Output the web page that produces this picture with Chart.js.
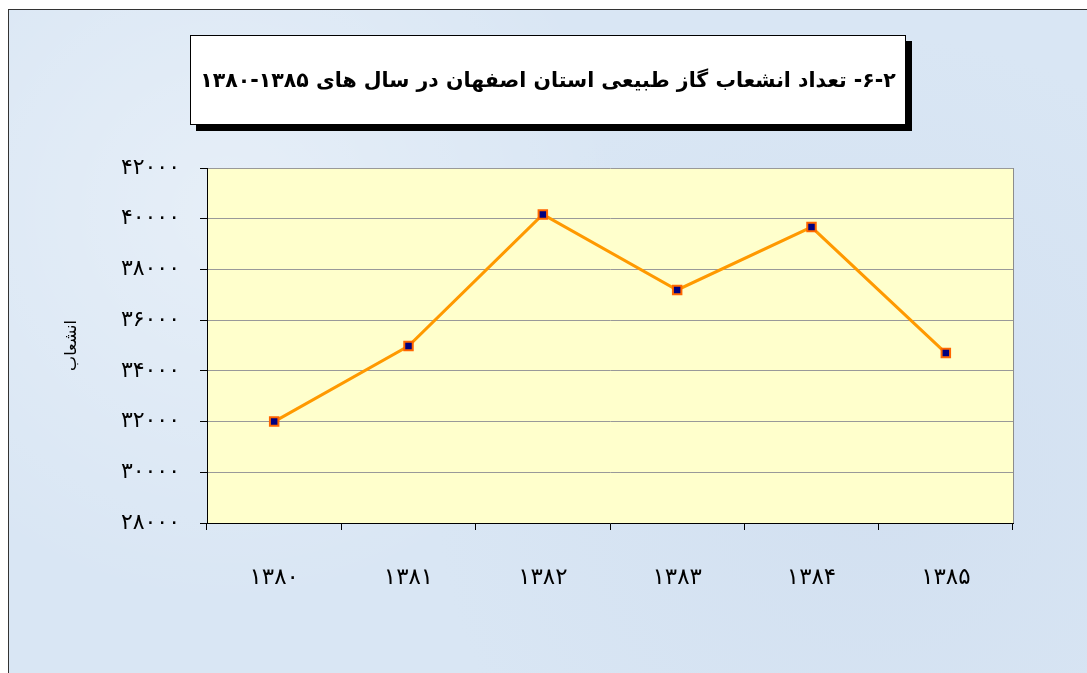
<!DOCTYPE html>
<html lang="fa">
<head>
    <meta charset="UTF-8">
    <title>انشعاب گاز طبیعی</title>
    <script src="https://cdn.jsdelivr.net/npm/chart.js"></script>
    <style>
        html, body { margin: 0; padding: 0; background: #ffffff; }
        #wrap { position: relative; width: 1087px; height: 673px; overflow: hidden; }
        #panel {
            position: absolute; left: 8px; top: 9px; right: -10px; bottom: -10px;
            border-top: 1px solid #333; border-left: 1px solid #333;
            background: #d9e6f4;
            background-image:
                radial-gradient(circle at 20% 30%, rgba(255,255,255,0.35) 0, rgba(255,255,255,0) 40%),
                radial-gradient(circle at 80% 70%, rgba(200,215,235,0.4) 0, rgba(200,215,235,0) 45%);
        }
        #chartBox { position: absolute; left: 0; top: 0; width: 1087px; height: 673px; }
        #titleBox {
            position: absolute; left: 190px; top: 35px; width: 714px; height: 88px;
            background: #ffffff; border: 1px solid #000;
            box-shadow: 6px 6px 0 #000;
            display: flex; align-items: center; justify-content: center;
            font-family: "DejaVu Sans", sans-serif; font-weight: bold; font-size: 20.5px;
            white-space: nowrap;
            direction: rtl; color: #000;
        }
    </style>
</head>
<body>
    <div id="wrap">
        <div id="panel"></div>
        <div id="chartBox"><canvas id="gasChart" width="1087" height="673"></canvas></div>
        <div id="titleBox">۶-۲- تعداد  انشعاب گاز طبیعی استان اصفهان در سال های ۱۳۸۵-۱۳۸۰</div>
    </div>

    <script>
        const years = ['۱۳۸۰', '۱۳۸۱', '۱۳۸۲', '۱۳۸۳', '۱۳۸۴', '۱۳۸۵'];
        const connections = [32000, 34980, 40170, 37190, 39670, 34700];
        const yTicks = [28000, 30000, 32000, 34000, 36000, 38000, 40000, 42000];
        const persianDigits = ['۰', '۱', '۲', '۳', '۴', '۵', '۶', '۷', '۸', '۹'];

        function toPersian(n) {
            return String(n).replace(/[0-9]/g, d => persianDigits[+d]);
        }

        const plotFill = {
            id: 'plotFill',
            beforeDraw(chart) {
                const { ctx, chartArea: a } = chart;
                ctx.save();
                ctx.fillStyle = '#ffffcc';
                ctx.fillRect(a.left, a.top, a.right - a.left, a.bottom - a.top);
                ctx.strokeStyle = '#8c8c8c';
                ctx.lineWidth = 1;
                ctx.beginPath();
                ctx.moveTo(a.right + 0.5, a.top);
                ctx.lineTo(a.right + 0.5, a.bottom);
                ctx.stroke();
                ctx.restore();
            }
        };

        const ctx = document.getElementById('gasChart').getContext('2d');
        new Chart(ctx, {
            type: 'line',
            data: {
                labels: years,
                datasets: [{
                    data: connections,
                    borderColor: '#ff9900',
                    borderWidth: 3,
                    pointStyle: 'rect',
                    pointRadius: 6,
                    pointHoverRadius: 6,
                    pointBackgroundColor: '#000080',
                    pointBorderColor: '#ff6600',
                    pointBorderWidth: 2,
                    tension: 0
                }]
            },
            options: {
                responsive: false,
                animation: false,
                layout: { padding: { top: 168, right: 74, left: 0, bottom: 0 } },
                plugins: {
                    legend: { display: false },
                    tooltip: { enabled: false }
                },
                scales: {
                    x: {
                        offset: true,
                        afterFit(scale) { scale.height = 150; },
                        grid: {
                            offset: true,
                            drawOnChartArea: false,
                            drawTicks: true,
                            tickLength: 7,
                            color: '#000'
                        },
                        border: { color: '#000', width: 1 },
                        ticks: {
                            padding: 34,
                            color: '#000',
                            font: { family: '"DejaVu Sans", sans-serif', size: 23 }
                        }
                    },
                    y: {
                        min: 28000,
                        max: 42000,
                        afterFit(scale) { scale.width = 207; },
                        afterBuildTicks(scale) {
                            scale.ticks = yTicks.map(v => ({ value: v }));
                        },
                        grid: {
                            color: '#999999',
                            lineWidth: 1,
                            tickLength: 7,
                            tickColor: '#000'
                        },
                        border: { color: '#000', width: 1 },
                        ticks: {
                            padding: 20,
                            color: '#000',
                            font: { family: '"DejaVu Sans", sans-serif', size: 22 },
                            callback: v => toPersian(v)
                        },
                        title: {
                            display: true,
                            text: 'انشعاب',
                            color: '#000',
                            font: { family: '"DejaVu Sans", sans-serif', size: 16 },
                            padding: { top: 62, bottom: 0 }
                        }
                    }
                }
            },
            plugins: [plotFill]
        });
    </script>
</body>
</html>
